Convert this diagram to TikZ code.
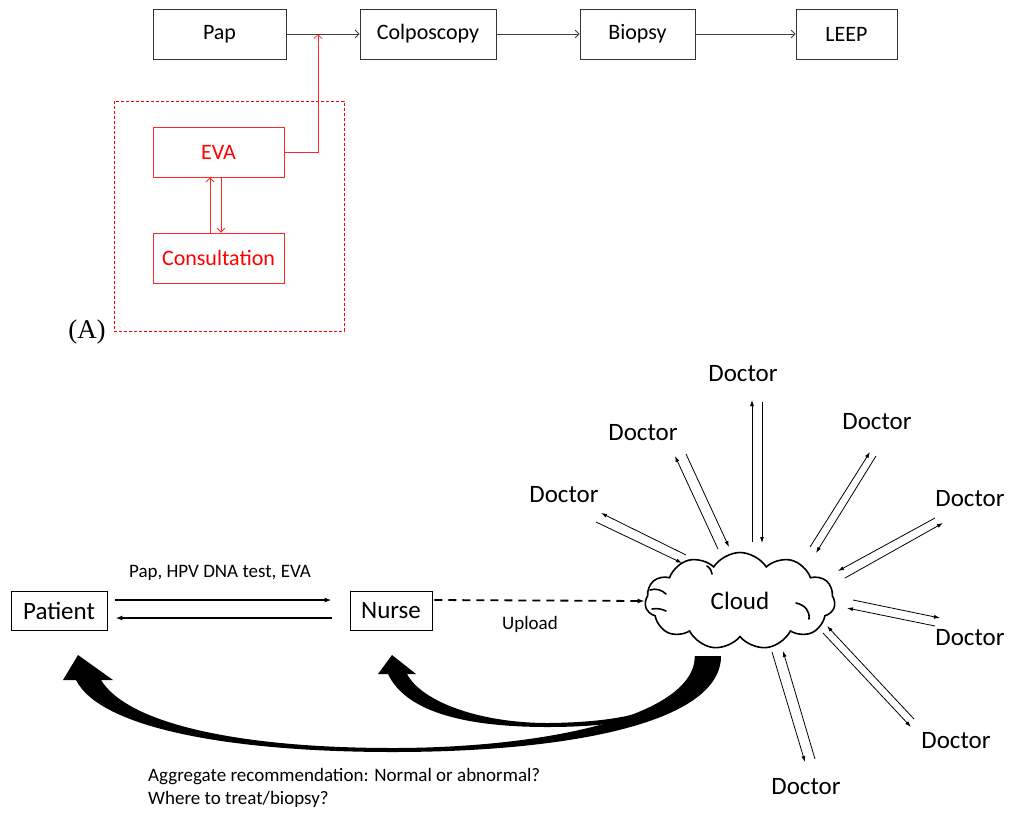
\documentclass[tikz,border=0pt]{standalone}
\usepackage{fontspec}
\setmainfont{Carlito}
\newfontfamily\timesfont{Liberation Serif}
\usetikzlibrary{shapes.symbols,arrows.meta}

\begin{document}
\begin{tikzpicture}
[
x=1pt,y=-1pt,
box/.style={draw=black!80,line width=0.8pt,minimum height=50,inner sep=0pt,font=\fontsize{22}{26}\selectfont},
redbox/.style={box,draw=red!85,text=red},
flow/.style={draw=black!75,line width=0.8pt,-{Straight Barb[length=4pt,width=8pt]}},
redflow/.style={flow,draw=red!85},
person/.style={draw,line width=0.9pt,minimum height=39,inner sep=0pt,font=\fontsize{25}{30}\selectfont},
link/.style={line width=1.8pt,-{Latex[length=7pt,width=5pt]}},
upl/.style={line width=1.8pt,dash pattern=on 8pt off 6pt,-{Latex[length=7pt,width=5pt]}},
ray/.style={line width=0.8pt,-{Latex[length=6pt,width=4pt]}},
doctor/.style={font=\fontsize{25}{30}\selectfont,inner sep=0pt},
note/.style={font=\fontsize{19}{23}\selectfont,inner sep=0pt},
curl/.style={line width=1.6pt,line cap=round},
]
\useasboundingbox (0,0) rectangle (1010,831);

%Top flow
\node[box,minimum width=133] (pap) at (219.5,34) {Pap};
\node[box,minimum width=136] (colpo) at (428,34) {Colposcopy};
\node[box,minimum width=115] (biopsy) at (637.5,34) {Biopsy};
\node[box,minimum width=101] (leep) at (846.5,34) {LEEP};
\draw[flow] (pap) -- (colpo);
\draw[flow] (colpo) -- (biopsy);
\draw[flow] (biopsy) -- (leep);

%EVA part
\draw[red,line width=0.8pt,dash pattern=on 3pt off 2pt] (114,101) rectangle (344,331);
\node[redbox,minimum width=131] (eva) at (218.5,152) {EVA};
\node[redbox,minimum width=131] (cons) at (218.5,258) {Consultation};
\coordinate (join) at (318,34);
\draw[redflow] (eva.east) -| (join);
\draw[redflow] ([xshift=-8.5pt]cons.north) -- ([xshift=-8.5pt]eva.south);
\draw[redflow] ([xshift=2.5pt]eva.south) -- ([xshift=2.5pt]cons.north);
\node[font=\timesfont\fontsize{27}{32}\selectfont] (lblA) at (87,332) {(A)};

%Patient, nurse, cloud
\node[person,minimum width=96] (patient) at (59,610.5) {Patient};
\node[person,minimum width=82] (nurse) at (391,610.5) {Nurse};
\node[cloud,draw,line width=1.6pt,cloud puffs=11,cloud puff arc=115,aspect=2,
  minimum width=190,minimum height=97,inner sep=0pt,font=\fontsize{25}{30}\selectfont] (cloud) at (740,601) {Cloud};
\draw[curl] (650,590) .. controls (656,588) and (662,590) .. (666,594);
\draw[curl] (652,609) .. controls (657,608) and (662,609) .. (666,611);
\draw[curl] (707,566) .. controls (710,568) and (712,571) .. (712,574);
\draw[curl] (796,603) .. controls (805,605) and (810,611) .. (809,619);
\draw[link] ([shift={(8,-10.5)}]patient.east) -- ([shift={(-18,-10.5)}]nurse.west);
\draw[link] ([shift={(-18,7.5)}]nurse.west) -- ([shift={(8,7.5)}]patient.east);
\node[note] (tests) at (220,573) {Pap, HPV DNA test, EVA};
\draw[upl] ([shift={(2,-10.5)}]nurse.east) -- (cloud.west);
\node[note] (upload) at (530,624) {Upload};

%Doctors
\foreach \n/\pos/\oa/\ob/\ia/\ib in {
  1/{564,495}/{686,555}/{601,513}/{596,522}/{682,563},
  2/{643,433}/{718,549}/{675,456}/{686,454}/{729,547},
  3/{743,374}/{752,542}/{752,400}/{762,402}/{762,543},
  4/{877,422}/{810,547}/{870,452}/{876,456}/{816,553},
  5/{970,499}/{845,578}/{943,523}/{935,518}/{838,571},
  6/{970,638}/{853,600}/{940,618}/{935,626}/{847,608},
  7/{956,741}/{823,633}/{911,727}/{914,719}/{827,626},
  8/{806,787}/{772,652}/{805,762}/{815,759}/{783,651}}
{
  \node[doctor] (doc\n) at (\pos) {Doctor};
  \coordinate (o\n-a) at (\oa);
  \coordinate (o\n-b) at (\ob);
  \coordinate (i\n-a) at (\ia);
  \coordinate (i\n-b) at (\ib);
  \draw[ray] (o\n-a) -- (o\n-b);
  \draw[ray] (i\n-a) -- (i\n-b);
}

%Feedback arrows
\fill (721,656) .. controls (721,725) and (560,752) .. (393,752)
  .. controls (230,752) and (100,728) .. (76,680)
  -- (63,680) -- (78,655) -- (113,680) -- (101,680)
  .. controls (128,724) and (240,748) .. (393,748)
  .. controls (540,748) and (694,718) .. (695,656) -- cycle;
\fill (721,656) .. controls (718,700) and (660,727) .. (548,727)
  .. controls (460,727) and (405,710) .. (388,674)
  -- (378,674) -- (392,655) -- (416,674) -- (407,674)
  .. controls (422,702) and (480,723) .. (548,723)
  .. controls (650,722) and (694,700) .. (695,656) -- cycle;
\node[note,align=left,anchor=north west] (advice) at (148,768) {Aggregate recommendation: Normal or abnormal?\\Where to treat/biopsy?};
\end{tikzpicture}
\end{document}
